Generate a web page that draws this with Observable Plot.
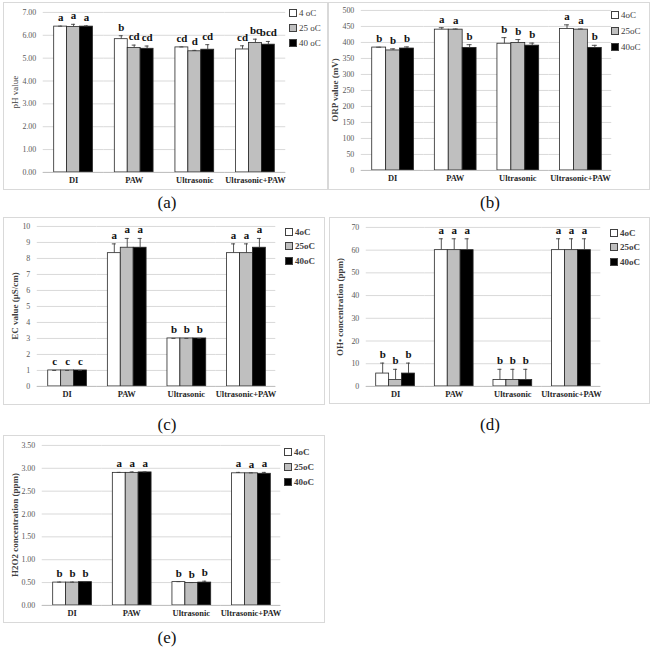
<!DOCTYPE html>
<html><head><meta charset="utf-8">
<script src="https://cdn.jsdelivr.net/npm/d3@7"></script>
<script src="https://cdn.jsdelivr.net/npm/@observablehq/plot@0.6"></script>
<style>
body{margin:0;background:#fff;}
#fig{position:relative;width:651px;height:649px;background:#fff;font-family:"Liberation Serif","Times New Roman",serif;overflow:hidden;}
.panel{position:absolute;border:1px solid #d9d9d9;box-sizing:border-box;}
.panel svg{position:absolute;left:-1px;top:-1px;overflow:visible;}
.cap{position:absolute;font-size:17px;transform:translate(-50%,-50%);color:#111;white-space:nowrap;}
.ytitle{position:absolute;transform:translate(-50%,-50%) rotate(-90deg);font-size:9px;font-weight:bold;white-space:nowrap;color:#404040;}
.leg{position:absolute;font-size:9px;color:#404040;white-space:nowrap;line-height:10px;}
.leg i{display:inline-block;width:6px;height:6px;border:1px solid #404040;margin-right:2px;vertical-align:-1px;}
</style></head>
<body><div id="fig"></div>
<script>
const categories = ["DI", "PAW", "Ultrasonic", "Ultrasonic+PAW"];
const seriesA = ["4 oC", "25 oC", "40 oC"];
const seriesB = ["4oC", "25oC", "40oC"];

// (a) pH
const ph4 = [6.38, 5.83, 5.47, 5.38];
const ph25 = [6.36, 5.44, 5.30, 5.66];
const ph40 = [6.38, 5.41, 5.37, 5.59];
const phErr4 = [0.02, 0.15, 0.02, 0.16];
const phErr25 = [0.12, 0.13, 0.04, 0.17];
const phErr40 = [0.03, 0.12, 0.22, 0.14];
const phLet4 = ["a", "b", "cd", "cd"];
const phLet25 = ["a", "cd", "d", "bc"];
const phLet40 = ["a", "cd", "cd", "bcd"];
const phTicks = [0, 1, 2, 3, 4, 5, 6, 7];

// (b) ORP
const orp4 = [384, 440, 396, 442];
const orp25 = [375, 440, 398, 440];
const orp40 = [381, 383, 390, 383];
const orpErr4 = [1, 6, 19, 13];
const orpErr25 = [5, 2, 11, 2];
const orpErr40 = [5, 10, 8, 8];
const orpLet4 = ["b", "a", "b", "a"];
const orpLet25 = ["b", "a", "b", "a"];
const orpLet40 = ["b", "b", "b", "b"];
const orpTicks = [0, 50, 100, 150, 200, 250, 300, 350, 400, 450, 500];

// (c) EC
const ec4 = [1.0, 8.33, 3.0, 8.33];
const ec25 = [1.0, 8.67, 3.0, 8.33];
const ec40 = [1.0, 8.67, 3.0, 8.67];
const ecErr4 = [0, 0.58, 0, 0.58];
const ecErr25 = [0, 0.58, 0, 0.58];
const ecErr40 = [0, 0.58, 0, 0.58];
const ecLet4 = ["c", "a", "b", "a"];
const ecLet25 = ["c", "a", "b", "a"];
const ecLet40 = ["c", "a", "b", "a"];
const ecTicks = [0, 1, 2, 3, 4, 5, 6, 7, 8, 9, 10];

// (d) OH•
const oh4 = [5.67, 60, 2.83, 60];
const oh25 = [2.83, 60, 2.83, 60];
const oh40 = [5.67, 60, 2.83, 60];
const ohErr4 = [4.6, 5, 4.7, 5];
const ohErr25 = [4.7, 5, 4.7, 5];
const ohErr40 = [4.6, 5, 4.7, 5];
const ohLet4 = ["b", "a", "b", "a"];
const ohLet25 = ["b", "a", "b", "a"];
const ohLet40 = ["b", "a", "b", "a"];
const ohTicks = [0, 10, 20, 30, 40, 50, 60, 70];

// (e) H2O2
const h4 = [0.50, 2.90, 0.51, 2.89];
const h25 = [0.50, 2.90, 0.49, 2.89];
const h40 = [0.51, 2.91, 0.50, 2.88];
const hErr4 = [0.01, 0.01, 0.01, 0.02];
const hErr25 = [0.01, 0.02, 0.01, 0.01];
const hErr40 = [0.01, 0.01, 0.03, 0.03];
const hLet4 = ["b", "a", "b", "a"];
const hLet25 = ["b", "a", "b", "a"];
const hLet40 = ["b", "a", "b", "a"];
const hTicks = [0, 0.5, 1, 1.5, 2, 2.5, 3, 3.5];

const fig = document.getElementById("fig");

function makePanel(p) {
  const rows = [];
  categories.forEach((c, i) => [0, 1, 2].forEach(j => rows.push({
    cat: c, ser: j, v: p.values[j][i], e: p.errors[j][i], l: p.letters[j][i]
  })));
  const box = document.createElement("div");
  box.className = "panel";
  Object.assign(box.style, {left: p.box[0] + "px", top: p.box[1] + "px", width: p.box[2] + "px", height: p.box[3] + "px"});
  const chart = Plot.plot({
    width: p.box[2], height: p.box[3],
    marginLeft: p.m[0], marginRight: p.m[1], marginTop: p.m[2], marginBottom: p.m[3],
    style: {fontFamily: "Liberation Serif, Times New Roman, serif", fontSize: "8px", color: "#595959", background: "transparent"},
    fx: {domain: categories, padding: 0, label: null},
    x: {domain: [0, 1, 2], axis: null, paddingInner: 0, paddingOuter: 0.72},
    y: {domain: [0, p.ticks[p.ticks.length - 1]], label: null},
    color: {type: "ordinal", domain: [0, 1, 2], range: ["#ffffff", "#bfbfbf", "#000000"]},
    marks: [
      Plot.gridY(p.ticks, {stroke: "#d9d9d9", strokeOpacity: 1}),
      Plot.axisY(p.ticks, {tickSize: 0, tickPadding: 7, tickFormat: p.fmt, label: null, fill: "#595959"}),
      Plot.axisFx({anchor: "bottom", tickSize: 0, tickPadding: 5, label: null, fontWeight: "bold", fontSize: 8.5, fill: "#262626"}),
      Plot.barY(rows, {fx: "cat", x: "ser", y: "v", fill: "ser", stroke: "#262626", strokeWidth: 0.8}),
      Plot.ruleY([0], {stroke: "#bfbfbf"}),
      Plot.ruleX(rows, {fx: "cat", x: "ser", y1: "v", y2: d => d.v + d.e, stroke: "#404040", strokeWidth: 0.9}),
      Plot.tickY(rows, {fx: "cat", x: "ser", y: d => d.v + d.e, insetLeft: 4.5, insetRight: 4.5, stroke: "#404040", strokeWidth: 0.9}),
      Plot.text(rows, {fx: "cat", x: "ser", y: d => d.v + d.e, text: "l", lineAnchor: "bottom", dy: -5, fontSize: 11, fontWeight: "bold", fill: "#111"})
    ]
  });
  box.appendChild(chart);
  fig.appendChild(box);

  const t = document.createElement("div");
  t.className = "ytitle";
  t.textContent = p.title;
  t.style.left = p.titlePos[0] + "px"; t.style.top = p.titlePos[1] + "px";
  if (p.titleNormal) t.style.fontWeight = "normal";
  fig.appendChild(t);

  const fills = ["#ffffff", "#bfbfbf", "#000000"];
  p.series.forEach((s, j) => {
    const lg = document.createElement("div");
    lg.className = "leg";
    lg.innerHTML = `<i style="background:${fills[j]}"></i>${s}`;
    lg.style.left = (p.leg[0] - 4) + "px"; lg.style.top = (p.leg[1][j] - 5) + "px";
    if (p.legBold) lg.style.fontWeight = "bold";
    fig.appendChild(lg);
  });

  const c = document.createElement("div");
  c.className = "cap";
  c.textContent = p.cap;
  c.style.left = p.capPos[0] + "px"; c.style.top = p.capPos[1] + "px";
  fig.appendChild(c);
}

const f2 = d3.format(".2f");
const f0 = d3.format("d");

makePanel({values: [ph4, ph25, ph40], errors: [phErr4, phErr25, phErr40], letters: [phLet4, phLet25, phLet40],
  ticks: phTicks, fmt: f2, series: seriesA, title: "pH value", titleNormal: true,
  box: [3, 2, 325, 188], m: [40, 41, 10, 17], titlePos: [15, 92], leg: [293, [13, 28, 43]], cap: "(a)", capPos: [167, 203]});

makePanel({values: [orp4, orp25, orp40], errors: [orpErr4, orpErr25, orpErr40], letters: [orpLet4, orpLet25, orpLet40],
  ticks: orpTicks, fmt: f0, series: seriesB, title: "ORP value (mV)",
  box: [328, 2, 322, 188], m: [33, 37, 8, 19], titlePos: [335, 90], leg: [615, [15, 31, 47]], cap: "(b)", capPos: [490, 203]});

makePanel({values: [ec4, ec25, ec40], errors: [ecErr4, ecErr25, ecErr40], letters: [ecLet4, ecLet25, ecLet40],
  ticks: ecTicks, fmt: f0, series: seriesB, title: "EC value (μS/cm)", legBold: true,
  box: [3, 217, 322, 188], m: [33, 48, 9, 18], titlePos: [15, 306], leg: [289, [232, 246, 261]], cap: "(c)", capPos: [167, 425]});

makePanel({values: [oh4, oh25, oh40], errors: [ohErr4, ohErr25, ohErr40], letters: [ohLet4, ohLet25, ohLet40],
  ticks: ohTicks, fmt: f0, series: seriesB, title: "OH• concentration (ppm)", legBold: true,
  box: [329, 217, 321, 187], m: [36, 48, 10, 17], titlePos: [340, 307], leg: [614, [233, 247, 262]], cap: "(d)", capPos: [490, 425]});

makePanel({values: [h4, h25, h40], errors: [hErr4, hErr25, hErr40], letters: [hLet4, hLet25, hLet40],
  ticks: hTicks, fmt: f2, series: seriesB, title: "H2O2  concentration (ppm)", legBold: true,
  box: [3, 435, 322, 188], m: [39, 43, 10, 17], titlePos: [15, 525], leg: [288, [452, 467, 482]], cap: "(e)", capPos: [167, 638]});
</script>
</body></html>
